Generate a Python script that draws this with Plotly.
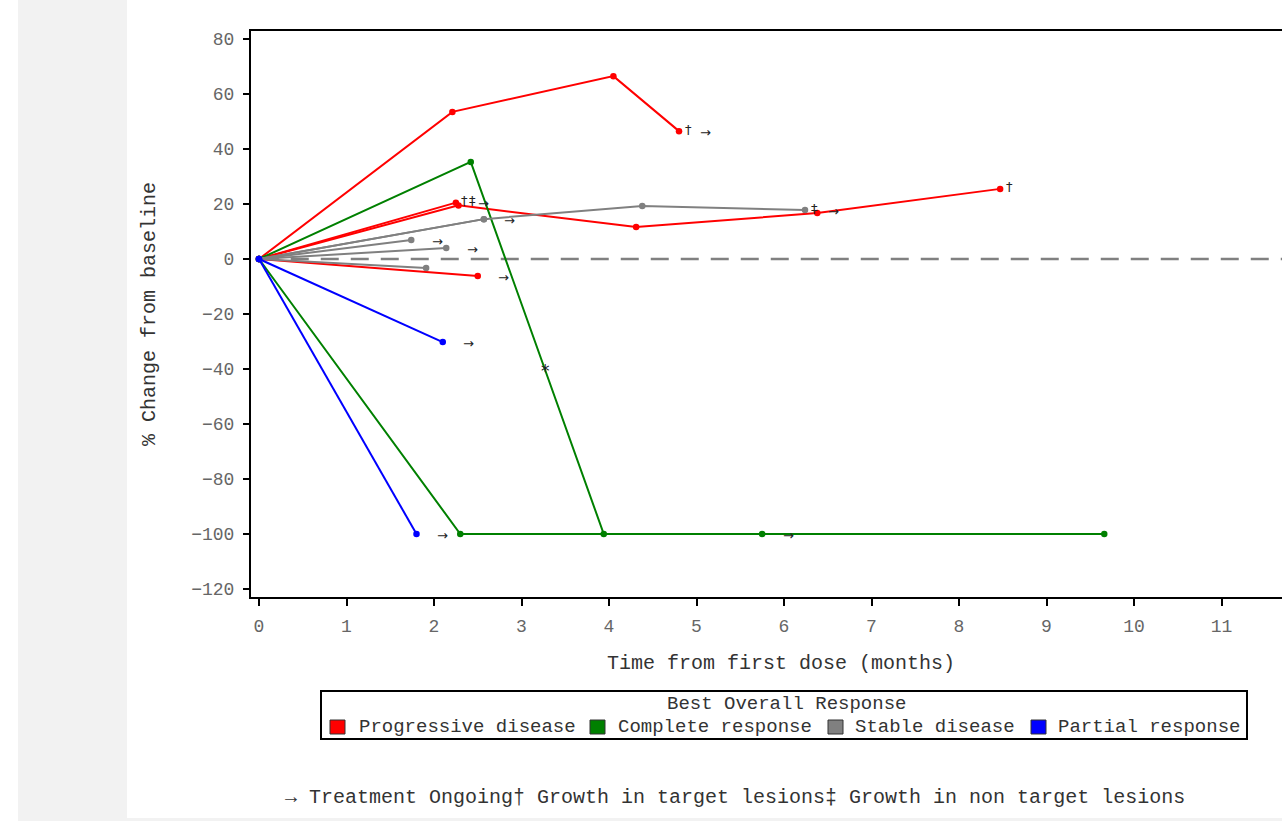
import plotly.graph_objects as go

# ---- data ----
categories = ["Progressive disease", "Complete response", "Stable disease", "Partial response"]
colors = {"Progressive disease": "#ff0000", "Complete response": "#008000",
          "Stable disease": "#808080", "Partial response": "#0000ff"}

# per subject: response, months, % change, flags (target growth, non-target growth, ongoing)
subj_resp = ["Progressive disease", "Progressive disease", "Progressive disease", "Progressive disease",
             "Complete response", "Complete response",
             "Stable disease", "Stable disease", "Stable disease", "Stable disease", "Stable disease",
             "Partial response", "Partial response"]
subj_x = [[0, 2.21, 4.05, 4.80],
          [0, 2.28, 4.31, 6.38, 8.47],
          [0, 2.25],
          [0, 2.50],
          [0, 2.42, 3.94, 5.75],
          [0, 2.30, 9.66],
          [0, 2.57, 4.38, 6.24],
          [0, 2.57],
          [0, 1.74],
          [0, 2.14],
          [0, 1.91],
          [0, 2.10],
          [0, 1.80]]
subj_y = [[0, 53.5, 66.5, 46.5],
          [0, 19.5, 11.6, 16.7, 25.5],
          [0, 20.5],
          [0, -6.2],
          [0, 35.3, -100, -100],
          [0, -100, -100],
          [0, 14.5, 19.3, 17.8],
          [0, 14.5],
          [0, 6.9],
          [0, 4.0],
          [0, -3.3],
          [0, -30.2],
          [0, -100]]
subj_target = [True, True, True, False, False, False, False, False, False, False, False, False, False]
subj_nontarget = [False, False, True, False, False, False, True, False, False, False, False, False, False]
subj_ongoing = [True, False, True, True, True, False, True, True, True, True, False, True, True]

star_x, star_y = [3.27], [-39.6]

x_ticks = list(range(0, 12))
y_ticks = list(range(-120, 81, 20))

MONO = "Liberation Mono, Courier New, monospace"
SYM = "DejaVu Sans, sans-serif"

W, H = 1282, 821
ML, MR, MT, MB = 251, 0, 31, 224
PW, PH = W - ML - MR, H - MT - MB


def px_x(px):
    return (px - ML) / PW


def px_y(py):
    return (H - MB - py) / PH


fig = go.Figure()
annotations = []
for resp, xs, ys, tg, nt, og in zip(subj_resp, subj_x, subj_y, subj_target, subj_nontarget, subj_ongoing):
    fig.add_trace(go.Scatter(x=xs, y=ys, mode="lines+markers", name=resp,
                             line=dict(color=colors[resp], width=2),
                             marker=dict(color=colors[resp], size=6.5),
                             showlegend=False, hoverinfo="x+y"))
    ex, ey = xs[-1], ys[-1]
    shift = 9
    if tg:
        annotations.append(dict(x=ex, y=ey, text="†", showarrow=False, xanchor="center",
                                xshift=shift, yshift=2, font=dict(family=SYM, size=13, color="#222")))
        shift += 8
    if nt:
        annotations.append(dict(x=ex, y=ey, text="‡", showarrow=False, xanchor="center",
                                xshift=shift, yshift=2, font=dict(family=SYM, size=13, color="#222")))
    if og:
        annotations.append(dict(x=ex, y=ey, text="→", showarrow=False, xanchor="center",
                                xshift=26 if not nt else 28, yshift=-1,
                                font=dict(family=SYM, size=13, color="#222")))

annotations.append(dict(x=star_x[0], y=star_y[0], text="*", showarrow=False, yshift=-3,
                        font=dict(family=SYM, size=17, color="#222")))

shapes = [
    # page background pieces
    dict(type="rect", xref="paper", yref="paper", x0=px_x(18), x1=px_x(127), y0=px_y(H), y1=px_y(0),
         fillcolor="#f2f2f2", line=dict(width=0), layer="below"),
    dict(type="rect", xref="paper", yref="paper", x0=px_x(18), x1=1.0, y0=px_y(H), y1=px_y(818),
         fillcolor="#f2f2f2", line=dict(width=0), layer="below"),
    # zero reference line
    dict(type="line", xref="x", yref="y", x0=0.02, x1=11.7, y0=0, y1=0,
         line=dict(color="#808080", width=2.5, dash="18px,12px"), layer="below"),
    # legend border
    dict(type="rect", xref="paper", yref="paper", x0=px_x(321), x1=px_x(1247), y0=px_y(739), y1=px_y(691),
         fillcolor="white", line=dict(color="black", width=2)),
]

# ---- legend box (drawn manually to match the compact reference layout) ----
annotations.append(dict(xref="paper", yref="paper", x=px_x(786), y=px_y(704),
                        text="Best Overall Response", showarrow=False,
                        xanchor="center", yanchor="middle",
                        font=dict(family=MONO, size=19, color="#333")))
sq_left = [330, 590, 828, 1031]
lab_left = [357, 616, 853, 1056]
for c, sl, ll in zip(categories, sq_left, lab_left):
    shapes.append(dict(type="rect", xref="paper", yref="paper", x0=px_x(sl), x1=px_x(sl + 15),
                       y0=px_y(734), y1=px_y(720), fillcolor=colors[c],
                       line=dict(color="#333", width=1)))
    annotations.append(dict(xref="paper", yref="paper", x=px_x(ll), y=px_y(727), text=c,
                            showarrow=False, xanchor="left", yanchor="middle",
                            font=dict(family=MONO, size=19, color="#333")))

# x axis title (positioned like the reference, which centres it on a wider axis)
annotations.append(dict(xref="paper", yref="paper", x=px_x(781), y=px_y(663),
                        text="Time from first dose (months)", showarrow=False,
                        xanchor="center", yanchor="middle",
                        font=dict(family=MONO, size=20, color="#333")))

# caption
annotations.append(dict(xref="paper", yref="paper", x=px_x(734.5), y=px_y(797),
                        text="→ Treatment Ongoing† Growth in target lesions‡ Growth in non target lesions",
                        showarrow=False, xanchor="center", yanchor="middle",
                        font=dict(family=MONO, size=20, color="#333")))

fig.update_layout(
    width=W, height=H,
    margin=dict(l=ML, r=MR, t=MT, b=MB),
    paper_bgcolor="white", plot_bgcolor="white",
    showlegend=False,
    xaxis=dict(range=[-0.0914, 11.691], tickmode="array", tickvals=x_ticks,
               showgrid=False, zeroline=False, showline=True, linecolor="black", linewidth=2,
               mirror=True, ticks="outside", ticklen=7, tickwidth=2, tickcolor="black",
               ticklabelstandoff=4,
               tickfont=dict(family=MONO, size=18, color="#666")),
    yaxis=dict(range=[-122.91, 82.91], tickmode="array", tickvals=y_ticks,
               showgrid=False, zeroline=False, showline=True, linecolor="black", linewidth=2,
               ticks="outside", ticklen=6, tickwidth=2, tickcolor="black",
               ticklabelstandoff=5,
               tickfont=dict(family=MONO, size=18, color="#666"),
               title=dict(text="% Change from baseline", standoff=30,
                          font=dict(family=MONO, size=20, color="#333"))),
    annotations=annotations,
    shapes=shapes,
)

fig.write_html("out.html")
